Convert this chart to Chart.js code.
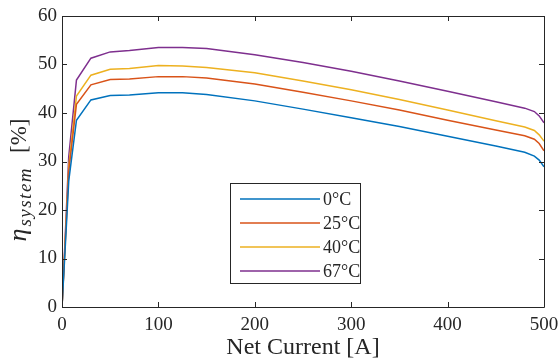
<!DOCTYPE html>
<html>
<head>
<meta charset="utf-8">
<script src="https://cdn.jsdelivr.net/npm/chart.js@4.4.1/dist/chart.umd.min.js"></script>
<style>
html,body{margin:0;padding:0;background:#fff;}
#wrap{width:560px;height:363px;position:relative;}
</style>
</head>
<body>
<div id="wrap"><canvas id="c" width="560" height="363"></canvas></div>
<script>
// Net current [A]
const current = [0, 3, 7, 15, 30, 50, 70, 100, 125, 150, 200, 250, 300, 350, 400, 450, 480, 490, 495, 500];
// System efficiency [%]
const eta0C  = [0, 11, 26, 38.5, 42.7, 43.6, 43.7, 44.2, 44.2, 43.8, 42.5, 40.8, 39.0, 37.2, 35.2, 33.2, 31.9, 31.1, 30.3, 28.9];
const eta25C = [0, 12, 28, 41.8, 45.8, 46.9, 47.0, 47.5, 47.5, 47.2, 46.0, 44.3, 42.5, 40.6, 38.5, 36.5, 35.3, 34.6, 33.7, 32.2];
const eta40C = [0, 12, 29, 43.5, 47.8, 49.0, 49.2, 49.8, 49.7, 49.4, 48.3, 46.6, 44.8, 42.8, 40.6, 38.4, 37.1, 36.4, 35.5, 34.2];
const eta67C = [0, 13, 31, 46.8, 51.3, 52.6, 52.9, 53.5, 53.5, 53.3, 52.0, 50.4, 48.6, 46.6, 44.5, 42.3, 41.0, 40.3, 39.4, 38.0];
const seriesLabels = ['0°C', '25°C', '40°C', '67°C'];
const xTicks = [0, 100, 200, 300, 400, 500];
const yTicks = [0, 10, 20, 30, 40, 50, 60];

const colors = ['#0072BD', '#D95319', '#EDB120', '#7E2F8E'];
const AXC = '#262626';
const SERIF = '"Liberation Serif", "DejaVu Serif", serif';

function pts(ys){ return current.map((x,i)=>({x:x, y:ys[i]})); }
const allSeries = [eta0C, eta25C, eta40C, eta67C];

const boxTicks = {
  id:'boxTicks',
  afterDatasetsDraw(chart){
    const ctx = chart.ctx, a = chart.chartArea;
    const xs = chart.scales.x, ys = chart.scales.y;
    ctx.save();
    ctx.strokeStyle = AXC; ctx.lineWidth = 1;
    ctx.beginPath();
    ctx.rect(Math.round(a.left)+0.5, Math.round(a.top)+0.5, Math.round(a.right-a.left), Math.round(a.bottom-a.top));
    ctx.stroke();
    const L = 5;
    ctx.beginPath();
    xTicks.forEach(v=>{
      const px = Math.round(xs.getPixelForValue(v))+0.5;
      ctx.moveTo(px, a.bottom); ctx.lineTo(px, a.bottom-L);
      ctx.moveTo(px, a.top); ctx.lineTo(px, a.top+L);
    });
    yTicks.forEach(v=>{
      const py = Math.round(ys.getPixelForValue(v))+0.5;
      ctx.moveTo(a.left, py); ctx.lineTo(a.left+L, py);
      ctx.moveTo(a.right, py); ctx.lineTo(a.right-L, py);
    });
    ctx.stroke();
    ctx.restore();
  },
  afterDraw(chart){
    const ctx = chart.ctx;
    // legend box
    ctx.save();
    const bx=230, by=183, bw=130, bh=100;
    ctx.fillStyle='#fff';
    ctx.fillRect(bx,by,bw,bh);
    ctx.strokeStyle=AXC; ctx.lineWidth=1;
    ctx.strokeRect(bx+0.5,by+0.5,bw,bh);
    chart.data.datasets.forEach((ds,i)=>{
      const y = 199 + i*24;
      ctx.strokeStyle = ds.borderColor; ctx.lineWidth = 1.5;
      ctx.beginPath(); ctx.moveTo(240,y); ctx.lineTo(320,y); ctx.stroke();
      ctx.fillStyle = AXC;
      ctx.font = '18px ' + SERIF;
      ctx.textBaseline = 'middle'; ctx.textAlign='left';
      ctx.fillText(ds.label, 323, y+1);
    });
    // y axis title
    ctx.translate(26, 180);
    ctx.rotate(-Math.PI/2);
    ctx.fillStyle = AXC;
    ctx.textBaseline = 'alphabetic';
    const f1 = 'italic 26px ' + SERIF, f2 = 'italic 19px ' + SERIF, f3 = '23px ' + SERIF;
    const gap1 = 2, gap2 = 14;
    ctx.font = f1; const w1 = ctx.measureText('η').width;
    ctx.font = f2; ctx.letterSpacing = '1.5px'; const w2 = ctx.measureText('system').width; ctx.letterSpacing = '0px';
    ctx.font = f3; const w3 = ctx.measureText('[%]').width;
    let x0 = -(w1+gap1+w2+gap2+w3)/2;
    ctx.font = f1; ctx.fillText('η', x0, 0); x0 += w1 + gap1;
    ctx.font = f2; ctx.letterSpacing = '1.5px'; ctx.fillText('system', x0, 5); ctx.letterSpacing = '0px'; x0 += w2 + gap2;
    ctx.font = f3; ctx.fillText('[%]', x0, 0);
    ctx.restore();
  }
};

new Chart(document.getElementById('c'), {
  type: 'line',
  data: {
    datasets: allSeries.map((s,i)=>({
      label: seriesLabels[i],
      data: pts(s),
      borderColor: colors[i],
      backgroundColor: colors[i],
      borderWidth: 1.5,
      pointRadius: 0,
      tension: 0,
      fill: false
    }))
  },
  options: {
    responsive: false,
    animation: false,
    devicePixelRatio: 1,
    layout: { padding: { top: 16, right: 16, left: 0, bottom: 0 } },
    plugins: { legend: { display: false }, tooltip: { enabled: false } },
    scales: {
      x: {
        type: 'linear', min: 0, max: 500,
        afterBuildTicks(s){ s.ticks = xTicks.map(v=>({value:v})); },
        afterFit(s){ s.height = 56; s.paddingLeft = 0; s.paddingRight = 0; },
        grid: { display: false, drawTicks: false },
        border: { display: false },
        ticks: { color: AXC, padding: 7, maxRotation: 0, font: { family: SERIF, size: 19 } },
        title: { display: true, text: 'Net Current [A]', color: AXC, padding: { top: 0, bottom: 1 }, font: { family: SERIF, size: 24 } }
      },
      y: {
        type: 'linear', min: 0, max: 60,
        afterBuildTicks(s){ s.ticks = yTicks.map(v=>({value:v})); },
        afterFit(s){ s.width = 62; s.paddingTop = 0; s.paddingBottom = 0; },
        grid: { display: false, drawTicks: false },
        border: { display: false },
        ticks: { color: AXC, padding: 5, font: { family: SERIF, size: 19 } }
      }
    }
  },
  plugins: [boxTicks]
});
</script>
</body>
</html>
